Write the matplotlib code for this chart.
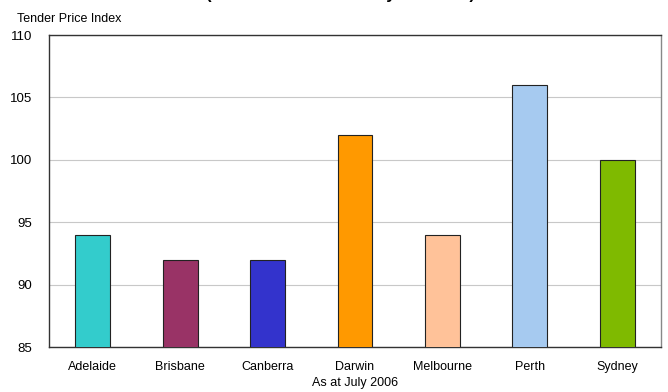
import matplotlib
matplotlib.use("Agg")
import matplotlib.pyplot as plt

cities = ["Adelaide", "Brisbane", "Canberra", "Darwin", "Melbourne", "Perth", "Sydney"]
tpi = [94, 92, 92, 102, 94, 106, 100]
bar_colors = ["#33CCCC", "#993366", "#3333CC", "#FF9900", "#FFC299", "#A6CAF0", "#7FBA00"]
yticks = [85, 90, 95, 100, 105, 110]

plt.rcParams["font.family"] = ["Liberation Sans", "DejaVu Sans"]

W, H = 668, 392
fig = plt.figure(figsize=(W / 100, H / 100), dpi=100)
ax = fig.add_axes([49 / W, 1 - 347 / H, (661 - 49) / W, (347 - 35) / H])

ax.bar(range(len(cities)), tpi, width=0.4, color=bar_colors,
       edgecolor="#222222", linewidth=0.8, zorder=3)
ax.set_xlim(-0.5, len(cities) - 0.5)
ax.set_ylim(85, 110)
ax.set_yticks(yticks)
ax.set_xticks(range(len(cities)))
ax.set_xticklabels(cities, fontsize=9)
ax.tick_params(axis="y", labelsize=9.5, length=0, pad=12)
ax.tick_params(axis="x", length=0, pad=10)
ax.grid(axis="y", color="#c8c8c8", linewidth=0.8, zorder=0)
for s in ["left", "bottom", "top"]:
    ax.spines[s].set_color("#333333")
    ax.spines[s].set_linewidth(1.0)
ax.spines["right"].set_color("#888888")
ax.spines["right"].set_linewidth(1.0)

ax.set_xlabel("As at July 2006", fontsize=9, labelpad=3)
fig.text(17 / W, 1 - 22 / H, "Tender Price Index", fontsize=9, ha="left", va="baseline")
# chart title sits mostly above the visible area, only its descenders show
fig.text(340 / W, 1 + 1.5 / H, "(National Index = 100 by Location)", fontsize=12,
         fontweight="bold", ha="center", va="baseline")

fig.savefig("out.png", dpi=100)
